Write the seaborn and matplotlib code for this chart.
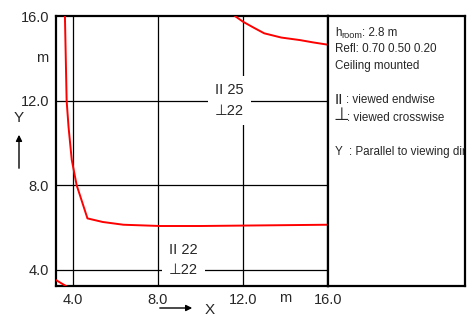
import numpy as np
import pandas as pd
import matplotlib
matplotlib.use('Agg')
import matplotlib.pyplot as plt
import seaborn as sns

# DATA
# ====
x_ticks = [4.0, 8.0, 12.0, 16.0]
y_ticks = [4.0, 8.0, 12.0, 16.0]
tick_labels_x = ['4.0', '8.0', '12.0', '16.0']
tick_labels_y = ['4.0', '8.0', '12.0', '16.0']

# red iso-lines
c1_x = [3.62, 3.66, 3.70, 3.79, 3.94, 4.17, 4.68, 5.4, 6.37, 8.1, 10.0, 12.0, 14.0, 16.0]
c1_y = [16.0, 14.0, 12.0, 10.75, 9.2, 8.0, 6.42, 6.25, 6.12, 6.06, 6.06, 6.08, 6.1, 6.12]
c2_x = [3.2, 3.45, 3.7]
c2_y = [3.5, 3.35, 3.2]
c3_x = [11.62, 12.0, 12.5, 13.0, 13.8, 14.68, 15.3, 16.0]
c3_y = [16.0, 15.73, 15.45, 15.18, 14.98, 14.86, 14.75, 14.64]

# labels at grid points: (x, y, endwise, crosswise)
lab_x = [11.35, 9.2]
lab_y = [12.0, 4.45]
lab_end = [25, 22]
lab_cross = [22, 22]

info_lines = ['Refl: 0.70 0.50 0.20', 'Ceiling mounted']

sns.set_style('white')
plt.rcParams['font.family'] = ['Liberation Sans', 'DejaVu Sans']

W, H = 473, 316
fig = plt.figure(figsize=(W / 100, H / 100), dpi=100)
ax = fig.add_axes([56 / W, (H - 286) / H, 272 / W, 270 / H])
axi = fig.add_axes([328 / W, (H - 286) / H, 137 / W, 270 / H])

# grid lines
for v in x_ticks[:-1]:
    ax.axvline(v, color='black', lw=0.9, zorder=1)
for v in y_ticks[:-1]:
    ax.axhline(v, color='black', lw=0.9, zorder=1)

# curves
for cx, cy in [(c1_x, c1_y), (c2_x, c2_y), (c3_x, c3_y)]:
    df = pd.DataFrame({'x': cx, 'y': cy})
    sns.lineplot(data=df, x='x', y='y', ax=ax, color='red', lw=1.4,
                 sort=False, estimator=None, zorder=3)

for x, y, e, c in zip(lab_x, lab_y, lab_end, lab_cross):
    ax.text(x, y, 'II ' + str(e) + '\n\u22a5' + str(c), ha='center', va='center',
            multialignment='left', fontsize=10.5, linespacing=1.6, zorder=4,
            bbox=dict(facecolor='white', edgecolor='none', pad=5))

ax.set_xlim(3.2, 16.0)
ax.set_ylim(3.22, 16.0)
ax.set_xticks(x_ticks)
ax.set_xticklabels(tick_labels_x)
ax.set_yticks(y_ticks)
ax.set_yticklabels(tick_labels_y)
ax.tick_params(length=0, labelsize=10.5, pad=5)
ax.set_xlabel('')
ax.set_ylabel('')
for s in ax.spines.values():
    s.set_linewidth(1.6)
    s.set_color('black')

# unit labels
ax.text(-8 / 272, 14.0, 'm', transform=ax.get_yaxis_transform(),
        ha='right', va='center', fontsize=10.5)
ax.text(14.0, -12 / 270, 'm', transform=ax.get_xaxis_transform(),
        ha='center', va='center', fontsize=10.5)

# axis arrows
fig.text(19 / W, (H - 118) / H, 'Y', ha='center', va='center', fontsize=11)
ax.annotate('', xy=(19, H - 132), xytext=(19, H - 171), xycoords='figure pixels',
            textcoords='figure pixels', annotation_clip=False,
            arrowprops=dict(arrowstyle='-|>', color='black', lw=1.0, mutation_scale=9))
fig.text(210 / W, (H - 310) / H, 'X', ha='center', va='center', fontsize=11)
ax.annotate('', xy=(195, H - 308), xytext=(157, H - 308), xycoords='figure pixels',
            textcoords='figure pixels', annotation_clip=False,
            arrowprops=dict(arrowstyle='-|>', color='black', lw=1.0, mutation_scale=9))

# info box
axi.set_xticks([])
axi.set_yticks([])
axi.set_xlim(0, 137)
axi.set_ylim(270, 0)
for s in axi.spines.values():
    s.set_linewidth(1.6)
    s.set_color('black')
fs = 8.4
axi.text(7, 17, 'h', ha='left', va='center', fontsize=fs)
axi.text(13.2, 19.5, 'room', ha='left', va='center', fontsize=6.6)
axi.text(34.5, 17, ': 2.8 m', ha='left', va='center', fontsize=fs)
for i, t in enumerate(info_lines):
    axi.text(7, 33 + i * 16.5, t, ha='left', va='center', fontsize=fs)
axi.text(6.5, 84, 'II', ha='left', va='center', fontsize=11)
axi.text(17.5, 84, ': viewed endwise', ha='left', va='center', fontsize=fs)
axi.text(5.5, 100, '\u22a5', ha='left', va='center', fontsize=13)
axi.text(19, 102, ': viewed crosswise', ha='left', va='center', fontsize=fs)
axi.text(7, 136, 'Y  : Parallel to viewing direction', ha='left', va='center',
         fontsize=fs, clip_on=True)

fig.savefig('out.png', dpi=100)
